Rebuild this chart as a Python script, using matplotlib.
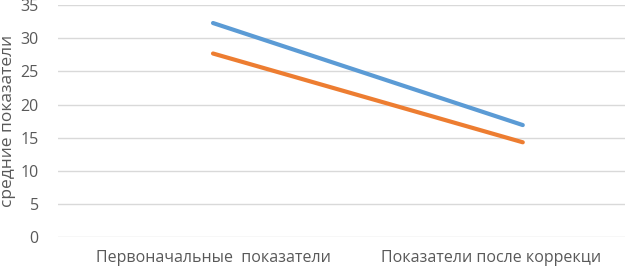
import matplotlib
matplotlib.use('Agg')
import matplotlib.pyplot as plt
import matplotlib.transforms as mtransforms

categories = ['Первоначальные  показатели', 'Показатели после коррекци']
blue_values = [32.3, 16.9]
orange_values = [27.7, 14.3]
y_ticks = [0, 5, 10, 15, 20, 25, 30, 35]

plt.rcParams['font.family'] = ['Open Sans', 'DejaVu Sans']
text_color = '#595959'

fig = plt.figure(figsize=(6.25, 2.7), dpi=100)
ax = fig.add_axes([0.093, 0.122, 0.907, 0.859])

x = list(range(len(categories)))
ax.plot(x, blue_values, color='#5B9BD5', linewidth=3, solid_capstyle='round')
ax.plot(x, orange_values, color='#ED7D31', linewidth=3, solid_capstyle='round')

ax.set_xlim(-0.5, 1.33)
ax.set_ylim(0, 35)
ax.set_yticks(y_ticks)
ax.set_xticks(x)
ax.set_xticklabels(categories)
ax.grid(axis='y', color='#D9D9D9', linewidth=1)
ax.set_axisbelow(True)
for s in ax.spines.values():
    s.set_visible(False)
ax.tick_params(length=0, labelsize=11.5, colors=text_color)
ax.tick_params(axis='y', pad=14)
ax.tick_params(axis='x', pad=9)

# second label starts further left in the reference
lbl = ax.get_xticklabels()[1]
lbl.set_transform(lbl.get_transform() + mtransforms.ScaledTranslation(-0.32, 0, fig.dpi_scale_trans))

ax.set_ylabel('средние показатели', fontsize=12.5, color=text_color)
ax.yaxis.set_label_coords(-0.075, 0.5)

fig.savefig('out.png', dpi=100)
